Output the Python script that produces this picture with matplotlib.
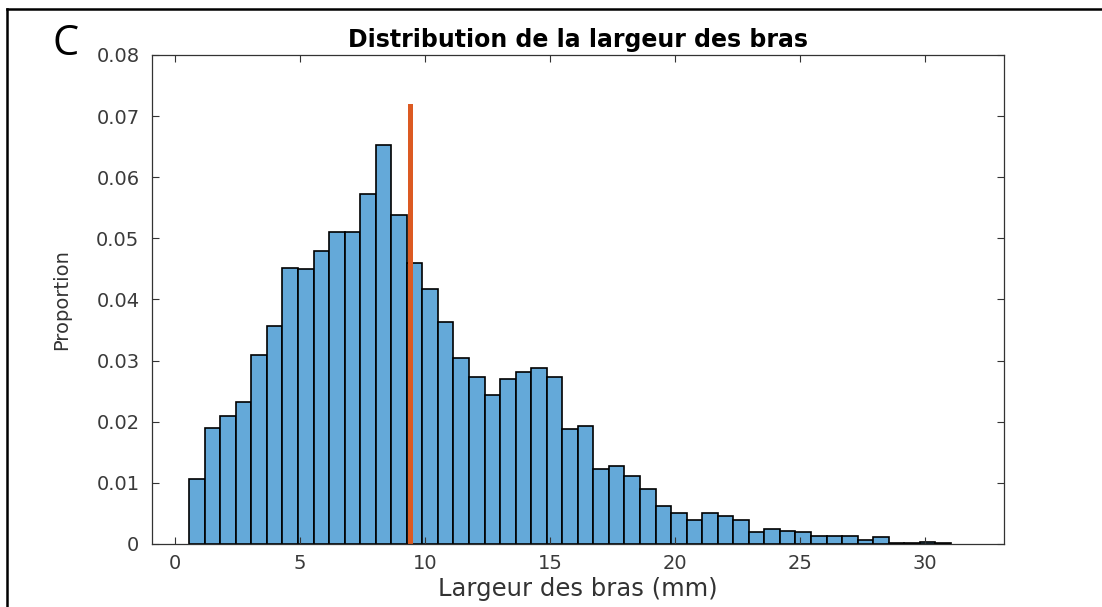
import numpy as np
import matplotlib
matplotlib.use('Agg')
import matplotlib.pyplot as plt

# hauteurs des barres (proportion)
proportions = [0.0106, 0.0190, 0.0209, 0.0233, 0.0310, 0.0356, 0.0452, 0.0450,
               0.0480, 0.0510, 0.0510, 0.0573, 0.0653, 0.0539, 0.0459, 0.0417,
               0.0363, 0.0305, 0.0274, 0.0244, 0.0270, 0.0281, 0.0288, 0.0274,
               0.0188, 0.0193, 0.0122, 0.0128, 0.0111, 0.0090, 0.0062, 0.0050,
               0.0039, 0.0050, 0.0046, 0.0039, 0.0020, 0.0024, 0.0022, 0.0020,
               0.0013, 0.0013, 0.0013, 0.0006, 0.0011, 0.0002, 0.0002, 0.0003,
               0.0002]
bin_start = 0.57
bin_end = 31.04
mediane = 9.42
mediane_haut = 0.0717

xticks = [0, 5, 10, 15, 20, 25, 30]
yticks = [0, 0.01, 0.02, 0.03, 0.04, 0.05, 0.06, 0.07, 0.08]
ytick_labels = ['0', '0.01', '0.02', '0.03', '0.04', '0.05', '0.06', '0.07', '0.08']

plt.rcParams['font.family'] = ['DejaVu Sans']

fig = plt.figure(figsize=(11.02, 6.07), dpi=100)
ax = fig.add_axes([0.1379, 0.1038, 0.7731, 0.8056])

edges = np.linspace(bin_start, bin_end, len(proportions) + 1)
ax.bar(edges[:-1], proportions, width=np.diff(edges), align='edge',
       color='#64A9D9', edgecolor='black', linewidth=1.2)
ax.plot([mediane, mediane], [0, mediane_haut], color='#DC5A22', linewidth=3.6)

ax.set_xlim(-0.92, 33.16)
ax.set_ylim(0, 0.08)
ax.set_xticks(xticks)
ax.set_yticks(yticks)
ax.set_yticklabels(ytick_labels)
ax.tick_params(direction='in', length=5, width=0.8, top=True, right=True,
               labelsize=14, colors='#333333', labelcolor='#3a3a3a')
ax.tick_params(axis='y', pad=9)
ax.tick_params(axis='x', pad=7)
for s in ax.spines.values():
    s.set_color('#333333')
    s.set_linewidth(0.9)

ax.set_title('Distribution de la largeur des bras', fontsize=17, fontweight='bold', pad=6)
ax.set_xlabel('Largeur des bras (mm)', fontsize=17.5, color='#333333', labelpad=3)
ax.set_ylabel('Proportion', fontsize=14, color='#333333', labelpad=18)

fig.text(0.06, 0.928, 'C', fontsize=30, family=['Open Sans', 'DejaVu Sans'], ha='center', va='center')

# cadre du panneau
fig.add_artist(plt.Line2D([0.0064, 1.0], [0.985, 0.985], color='black', linewidth=1.8, transform=fig.transFigure))
fig.add_artist(plt.Line2D([0.0064, 0.0064], [0.0, 0.985], color='black', linewidth=1.8, transform=fig.transFigure))

fig.savefig('out.png', dpi=100)
